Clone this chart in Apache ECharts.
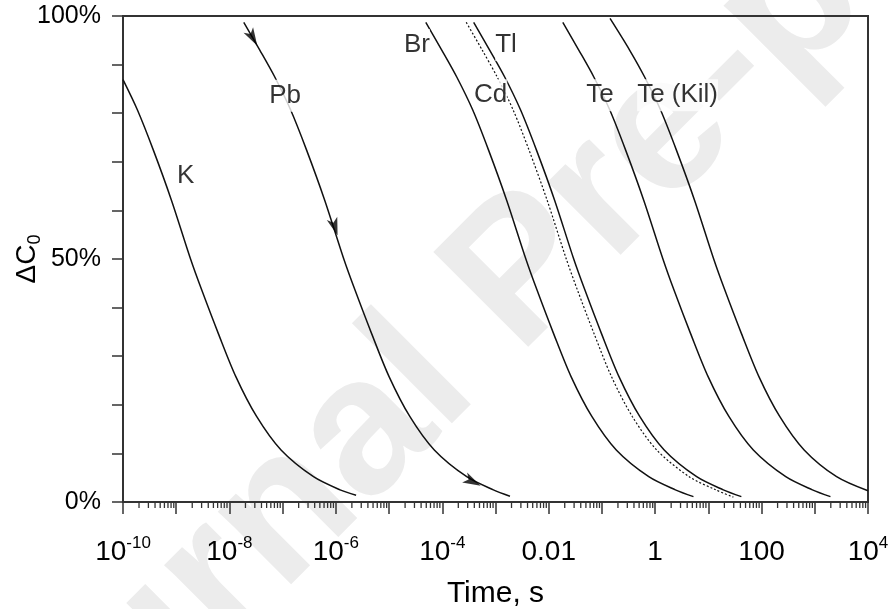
<!DOCTYPE html>
<html><head><meta charset="utf-8">
<script src="https://cdn.jsdelivr.net/npm/echarts@6/dist/echarts.min.js"></script>
<style>html,body{margin:0;padding:0;background:#fff}#c{width:890px;height:609px}</style>
</head><body><div id="c"></div>
<script>
// ---- data (time in seconds, remaining fraction in %) ----
const kTime = [1.0e-10, 1.86e-10, 3.72e-10, 8.13e-10, 1.86e-9, 3.02e-9, 6.17e-9, 1.32e-8, 3.24e-8, 9.33e-8, 3.80e-7, 1.20e-6, 2.40e-6];
const kPct  = [86.9, 80.7, 72.4, 62.1, 50.0, 43.6, 34.7, 25.8, 17.6, 10.7, 5.2, 2.5, 1.4];

const pbTime = [1.86e-8, 3.72e-8, 7.08e-8, 1.41e-7, 2.82e-7, 6.17e-7, 1.41e-6, 2.29e-6, 4.68e-6, 1.0e-5, 2.45e-5, 7.08e-5, 2.88e-4, 9.12e-4, 1.87e-3];
const pbPct  = [98.7, 93.0, 87.5, 80.7, 72.4, 62.1, 50.0, 43.6, 34.7, 25.8, 17.6, 10.7, 5.2, 2.5, 1.2];

const brTime = [4.90e-5, 9.77e-5, 1.86e-4, 3.72e-4, 7.41e-4, 1.62e-3, 3.72e-3, 6.03e-3, 1.23e-2, 2.63e-2, 6.46e-2, 0.186, 0.759, 2.40, 5.25];
const brPct  = [98.7, 93.0, 87.5, 80.7, 72.4, 62.1, 50.0, 43.6, 34.7, 25.8, 17.6, 10.7, 5.2, 2.5, 1.1];

const cdTime = [2.82e-4, 5.62e-4, 1.07e-3, 2.14e-3, 4.27e-3, 9.33e-3, 2.14e-2, 3.47e-2, 7.08e-2, 0.151, 0.372, 1.07, 4.37, 13.8, 29.5];
const cdPct  = [98.7, 93.0, 87.5, 80.7, 72.4, 62.1, 50.0, 43.6, 34.7, 25.8, 17.6, 10.7, 5.2, 2.5, 1.0];

const tlTime = [3.89e-4, 7.76e-4, 1.48e-3, 2.95e-3, 5.89e-3, 1.29e-2, 2.95e-2, 4.79e-2, 9.77e-2, 0.209, 0.513, 1.48, 6.03, 19.1, 41.7];
const tlPct  = [98.7, 93.0, 87.5, 80.7, 72.4, 62.1, 50.0, 43.6, 34.7, 25.8, 17.6, 10.7, 5.2, 2.5, 1.1];

const teTime = [1.84e-2, 3.67e-2, 7.0e-2, 0.140, 0.279, 0.610, 1.40, 2.26, 4.62, 9.89, 24.3, 70.0, 285, 902, 1970];
const tePct  = [98.7, 93.0, 87.5, 80.7, 72.4, 62.1, 50.0, 43.6, 34.7, 25.8, 17.6, 10.7, 5.2, 2.5, 1.1];

const teKilTime = [0.142, 0.331, 0.631, 1.26, 2.51, 5.50, 12.6, 20.4, 41.7, 89.1, 219, 631, 2570, 10000];
const teKilPct  = [99.5, 93.0, 87.5, 80.7, 72.4, 62.1, 50.0, 43.6, 34.7, 25.8, 17.6, 10.7, 5.2, 2.3];

// curve labels (placed in data coordinates)
const labelNames = ['K', 'Pb', 'Br', 'Tl', 'Cd', 'Te', 'Te (Kil)'];
const labelTime  = [1.51e-9, 1.11e-7, 3.35e-5, 1.58e-3, 8.1e-4, 9.2e-2, 2.64];
const labelPct   = [67.1, 83.6, 94.0, 94.0, 83.7, 83.7, 83.7];

// arrow heads on the Pb curve
const arrowTime = [2.75e-8, 9.55e-7, 3.72e-4];
const arrowPct  = [95.5, 56.6, 4.2];
const arrowRot  = [-150, -162, -117];

// axis ticks
const xMin = 1e-10, xMax = 1e4;
const yTicks = [0, 50, 100];

const FONT = '"Liberation Sans", Arial, sans-serif';
const zip = (a, b) => a.map((v, i) => [v, b[i]]);

const minorTicks = [];
for (let e = -10; e < 4; e++) for (let m = 2; m <= 9; m++) minorTicks.push([m * Math.pow(10, e), 0]);

function fmtX(v) {
  const e = Math.round(Math.log10(v));
  if (e % 2 !== 0) return '';
  if (e >= -2 && e <= 2) return '{b|' + (e === -2 ? '0.01' : e === 0 ? '1' : '100') + '}';
  return '{b|10}{s|' + e + '}';
}

const lineBase = { type: 'line', showSymbol: false, symbol: 'none', smooth: 0.3, silent: true, z: 2 };
const solid = { color: '#111', width: 1.5 };

const chart = echarts.init(document.getElementById('c'), null, { renderer: 'canvas' });
chart.setOption({
  animation: false,
  backgroundColor: '#fff',
  textStyle: { fontFamily: FONT },
  graphic: [{
    type: 'text', x: 523, y: 276, rotation: Math.PI / 4, z: -1, silent: true,
    style: { text: 'Journal Pre-proof', font: 'bold 195px "Liberation Sans"', fill: '#ececec',
             align: 'center', verticalAlign: 'middle', textAlign: 'center', textVerticalAlign: 'middle' }
  }],
  grid: { left: 123, right: 22, top: 16, bottom: 107, show: true, borderColor: '#333', borderWidth: 2,
          containLabel: false, outerBoundsMode: 'none' },
  xAxis: {
    type: 'log', logBase: 10, min: xMin, max: xMax, interval: 1,
    axisLine: { show: true, onZero: false, lineStyle: { color: '#333', width: 2 } },
    axisTick: { show: true, inside: false, length: 12, lineStyle: { color: '#333', width: 1.5 } },
    splitLine: { show: false },
    axisLabel: {
      margin: 33, color: '#000', formatter: fmtX, showMinLabel: true, showMaxLabel: true,
      rich: {
        b: { fontSize: 28, lineHeight: 34, fontFamily: FONT, color: '#000' },
        s: { fontSize: 17, lineHeight: 8, verticalAlign: 'top', fontFamily: FONT, color: '#000' }
      }
    },
    name: 'Time, s', nameLocation: 'middle', nameGap: 77, nameMoveOverlap: false,
    nameTextStyle: { fontSize: 30, color: '#000', fontFamily: FONT }
  },
  yAxis: {
    type: 'value', min: 0, max: 100, interval: 10,
    axisLine: { show: true, onZero: false, lineStyle: { color: '#333', width: 2 } },
    axisTick: { show: true, inside: false, length: 11, lineStyle: { color: '#333', width: 1.5 } },
    splitLine: { show: false },
    axisLabel: {
      margin: 22, fontSize: 25, color: '#000', fontFamily: FONT,
      formatter: v => yTicks.includes(v) ? v + '%' : ''
    },
    name: '{a|ΔC}{b|0}', nameLocation: 'middle', nameRotate: 90, nameGap: 79, nameMoveOverlap: false,
    nameTextStyle: {
      rich: {
        a: { fontSize: 28, lineHeight: 34, fontFamily: FONT, color: '#000' },
        b: { fontSize: 18, lineHeight: 8, verticalAlign: 'bottom', fontFamily: FONT, color: '#000' }
      }
    }
  },
  series: [
    Object.assign({}, lineBase, { name: 'K', data: zip(kTime, kPct), lineStyle: solid }),
    Object.assign({}, lineBase, { name: 'Pb', data: zip(pbTime, pbPct), lineStyle: solid }),
    Object.assign({}, lineBase, { name: 'Br', data: zip(brTime, brPct), lineStyle: solid }),
    Object.assign({}, lineBase, { name: 'Cd', data: zip(cdTime, cdPct), lineStyle: { color: '#111', width: 1.2, type: [2, 2] } }),
    Object.assign({}, lineBase, { name: 'Tl', data: zip(tlTime, tlPct), lineStyle: solid }),
    Object.assign({}, lineBase, { name: 'Te', data: zip(teTime, tePct), lineStyle: solid }),
    Object.assign({}, lineBase, { name: 'Te (Kil)', data: zip(teKilTime, teKilPct), lineStyle: solid }),
    {
      type: 'scatter', silent: true, z: 4,
      symbol: 'path://M0,0 L10,20 L0,15 L-10,20 Z', symbolSize: [11, 18],
      itemStyle: { color: '#000' },
      data: arrowTime.map((t, i) => ({ value: [t, arrowPct[i]], symbolRotate: arrowRot[i] }))
    },
    {
      type: 'custom', silent: true, z: 3, clip: false,
      data: minorTicks,
      renderItem: (params, api) => {
        const p = api.coord([api.value(0), 0]);
        return { type: 'line', shape: { x1: p[0], y1: p[1], x2: p[0], y2: p[1] + 6 },
                 style: { stroke: '#333', lineWidth: 1.3 } };
      }
    },
    {
      type: 'scatter', silent: true, z: 5, symbolSize: 1,
      itemStyle: { color: 'rgba(0,0,0,0)' },
      label: { show: true, position: 'inside', formatter: p => p.name, fontSize: 26, color: '#000',
               fontFamily: FONT, backgroundColor: '#fff', padding: [3, 0] },
      data: labelNames.map((n, i) => ({ name: n, value: [labelTime[i], labelPct[i]] }))
    }
  ]
});
</script></body></html>
